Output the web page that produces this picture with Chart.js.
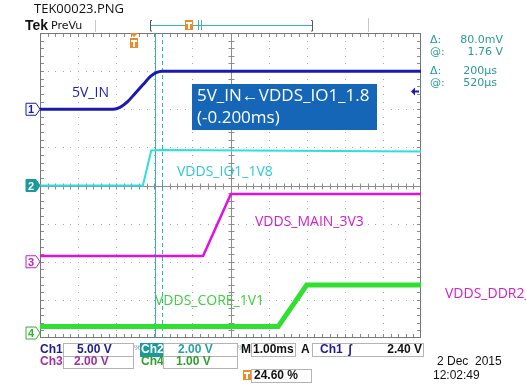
<!DOCTYPE html>
<html>
<head>
<meta charset="utf-8">
<script src="https://cdn.jsdelivr.net/npm/chart.js@4"></script>
<style>
html,body{margin:0;padding:0;background:#fff;}
canvas{display:block;}
</style>
</head>
<body>
<canvas id="scope" width="526" height="388"></canvas>
<script>
// breakpoints: x in divisions (1.00 ms/div), y in divisions from bottom
const ch1Time = [0, 1.92, 2.1, 2.3, 2.5, 2.7, 2.9, 3.05, 3.2, 10];
const ch1Div  = [6.0, 6.0, 6.05, 6.2, 6.42, 6.64, 6.86, 6.96, 7.0, 7.0];
const ch2Time = [0, 2.70, 2.92, 3.2, 10];
const ch2Div  = [4.0, 4.0, 4.92, 4.93, 4.89];
const ch3Time = [0, 4.28, 5.01, 10];
const ch3Div  = [2.15, 2.15, 3.78, 3.78];
const ch4Time = [0, 6.25, 7.0, 10];
const ch4Div  = [0.30, 0.30, 1.39, 1.39];

const groundMarks = [6.0, 4.0, 2.0, 0.13];   // ch1..ch4 ground markers
const cursorTimes = [3.02, 3.2];             // solid / dashed cursor
const triggerTime = 2.46;
const triggerLevel = 6.48;

const traceColors = ['#1a1aae', '#2fdede', '#e010e0', '#30e030'];

function pts(t, v){ return t.map((x, i) => ({x, y: v[i]})); }

const graticule = {
  id: 'graticule',
  beforeDatasetsDraw(chart){
    const {ctx, chartArea: a, scales: {x, y}} = chart;
    ctx.save();
    // dotted grid
    ctx.fillStyle = '#a8a8a8';
    for (let i = 1; i < 10; i++) {
      if (i === 5) continue;
      const px = Math.round(x.getPixelForValue(i));
      for (let j = 1; j < 40; j++) ctx.fillRect(px, Math.round(y.getPixelForValue(j * 0.2)), 1, 1);
    }
    for (let i = 1; i < 8; i++) {
      if (i === 4) continue;
      const py = Math.round(y.getPixelForValue(i));
      for (let j = 1; j < 50; j++) ctx.fillRect(Math.round(x.getPixelForValue(j * 0.2)), py, 1, 1);
    }
    // centre crosshair with ticks
    ctx.strokeStyle = '#8c8c8c';
    ctx.lineWidth = 1;
    const cx = Math.round(x.getPixelForValue(5)) + 0.5;
    const cy = Math.round(y.getPixelForValue(4)) + 0.5;
    ctx.beginPath();
    ctx.moveTo(cx, a.top); ctx.lineTo(cx, a.bottom);
    ctx.moveTo(a.left, cy); ctx.lineTo(a.right, cy);
    for (let j = 1; j < 40; j++) {
      const py = Math.round(y.getPixelForValue(j * 0.2)) + 0.5;
      ctx.moveTo(cx - 3, py); ctx.lineTo(cx + 3, py);
      ctx.moveTo(a.left, py); ctx.lineTo(a.left + 4, py);
      ctx.moveTo(a.right, py); ctx.lineTo(a.right - 4, py);
    }
    for (let j = 1; j < 50; j++) {
      const px = Math.round(x.getPixelForValue(j * 0.2)) + 0.5;
      ctx.moveTo(px, cy - 3); ctx.lineTo(px, cy + 3);
      ctx.moveTo(px, a.top); ctx.lineTo(px, a.top + 4);
      ctx.moveTo(px, a.bottom); ctx.lineTo(px, a.bottom - 4);
    }
    ctx.stroke();
    // frame
    ctx.strokeStyle = '#777';
    ctx.strokeRect(a.left + 0.5, a.top + 0.5, a.right - a.left - 1, a.bottom - a.top - 1);
    // cursors
    ctx.strokeStyle = '#2ab4c4';
    const c1 = Math.round(x.getPixelForValue(cursorTimes[0])) + 0.5;
    const c2 = Math.round(x.getPixelForValue(cursorTimes[1])) + 0.5;
    ctx.beginPath(); ctx.moveTo(c1, a.top); ctx.lineTo(c1, a.bottom); ctx.stroke();
    ctx.setLineDash([4, 3]);
    ctx.beginPath(); ctx.moveTo(c2, a.top); ctx.lineTo(c2, a.bottom); ctx.stroke();
    ctx.restore();
  }
};

function marker(ctx, n, py, color, filled){
  ctx.beginPath();
  ctx.moveTo(26, py - 6); ctx.lineTo(36, py - 6); ctx.lineTo(40, py);
  ctx.lineTo(36, py + 6); ctx.lineTo(26, py + 6); ctx.closePath();
  ctx.fillStyle = filled ? color : '#fff';
  ctx.fill();
  ctx.strokeStyle = color; ctx.lineWidth = 1; ctx.stroke();
  ctx.fillStyle = filled ? '#fff' : color;
  ctx.font = 'bold 11px "Liberation Sans"';
  ctx.textAlign = 'center'; ctx.textBaseline = 'middle';
  ctx.fillText(n, 31, py + 1);
}

function box(ctx, x0, y0, w, h){
  ctx.fillStyle = '#fff';
  ctx.fillRect(x0, y0, w, h);
  ctx.strokeStyle = '#b4b4b4'; ctx.lineWidth = 1;
  ctx.strokeRect(x0 + 0.5, y0 + 0.5, w - 1, h - 1);
}

function text(ctx, s, px, py, color, font, align){
  ctx.fillStyle = color; ctx.font = font;
  ctx.textAlign = align || 'left'; ctx.textBaseline = 'middle';
  ctx.fillText(s, px, py);
}

function tIcon(ctx, px, py){
  ctx.fillStyle = '#f08a24';
  ctx.fillRect(px, py, 8, 10);
  ctx.fillStyle = '#fff';
  ctx.fillRect(px + 1, py + 2, 6, 2);
  ctx.fillRect(px + 3, py + 2, 2, 7);
}

const overlay = {
  id: 'overlay',
  afterDraw(chart){
    const {ctx, chartArea: a, scales: {x, y}} = chart;
    ctx.save();
    // header
    text(ctx, 'TEK00023.PNG', 34, 9, '#111', '13px "Open Sans"');
    text(ctx, 'Tek', 25, 26, '#111', 'bold 14px "Liberation Sans"');
    text(ctx, 'PreVu', 51, 26, '#111', '11px "DejaVu Sans"');
    ctx.fillStyle = '#c8c8c8';
    ctx.fillRect(95, 20, 1, 12); ctx.fillRect(368, 18, 1, 14);
    ctx.strokeStyle = '#555'; ctx.lineWidth = 1;
    ctx.beginPath();
    ctx.moveTo(152, 20.5); ctx.lineTo(150.5, 20.5); ctx.lineTo(150.5, 31); ctx.lineTo(152, 31);
    ctx.moveTo(311, 20.5); ctx.lineTo(312.5, 20.5); ctx.lineTo(312.5, 31); ctx.lineTo(311, 31);
    ctx.stroke();
    ctx.strokeStyle = '#3ab0c0';
    ctx.beginPath(); ctx.moveTo(151, 25.5); ctx.lineTo(312, 25.5);
    ctx.moveTo(198.5, 20); ctx.lineTo(198.5, 30); ctx.moveTo(201.5, 20); ctx.lineTo(201.5, 30);
    ctx.stroke();
    tIcon(ctx, 185, 20);
    // trigger position marker
    const tx = Math.round(x.getPixelForValue(triggerTime));
    ctx.fillStyle = '#f08a24';
    ctx.beginPath(); ctx.moveTo(tx - 4, a.top); ctx.lineTo(tx + 4, a.top); ctx.lineTo(tx, a.top + 4); ctx.fill();
    tIcon(ctx, tx - 4, a.top + 5);
    // trigger level arrow
    const ty = Math.round(y.getPixelForValue(triggerLevel)) + 0.5;
    ctx.strokeStyle = traceColors[0]; ctx.fillStyle = traceColors[0]; ctx.lineWidth = 2;
    ctx.beginPath(); ctx.moveTo(414, ty); ctx.lineTo(419, ty); ctx.stroke();
    ctx.beginPath(); ctx.moveTo(411, ty); ctx.lineTo(415, ty - 4); ctx.lineTo(415, ty + 4); ctx.fill();
    ctx.lineWidth = 1;
    // ground markers
    marker(ctx, '1', y.getPixelForValue(groundMarks[0]), '#1a1aae', false);
    marker(ctx, '2', y.getPixelForValue(groundMarks[1]), '#1a9a9a', true);
    marker(ctx, '3', y.getPixelForValue(groundMarks[2]), '#c020c0', false);
    marker(ctx, '4', y.getPixelForValue(groundMarks[3]), '#30b030', false);
    // trace labels
    const lf = '14px "Open Sans"';
    text(ctx, '5V_IN', 72, 93, '#2020b0', lf);
    text(ctx, 'VDDS_IO1_1V8', 177, 172, '#30c8d8', lf);
    text(ctx, 'VDDS_MAIN_3V3', 255, 222, '#d020d0', lf);
    text(ctx, 'VDDS_DDR2_', 445, 294, '#d020d0', lf);
    text(ctx, 'VDDS_CORE_1V1', 155, 301, '#40d040', lf);
    // note box
    ctx.fillStyle = '#1666b8';
    ctx.fillRect(192, 84, 185, 46);
    text(ctx, '5V_IN\u2190VDDS_IO1_1.8', 197, 96, '#fff', '17px "Open Sans"');
    text(ctx, '(-0.200ms)', 197, 118, '#fff', '17px "Open Sans"');
    // cursor readouts
    const rf = '11px "DejaVu Sans"', rc = '#2a9a9a';
    text(ctx, '\u0394:', 430, 40, rc, rf);  text(ctx, '80.0mV', 503, 40, rc, rf, 'right');
    text(ctx, '@:', 430, 52, rc, rf);       text(ctx, '1.76 V', 503, 52, rc, rf, 'right');
    text(ctx, '\u0394:', 430, 71, rc, rf);  text(ctx, '200\u00b5s', 497, 71, rc, rf, 'right');
    text(ctx, '@:', 430, 83, rc, rf);       text(ctx, '520\u00b5s', 497, 83, rc, rf, 'right');
    // bottom readouts
    const bf = 'bold 12px "Liberation Sans"';
    text(ctx, 'Ch1', 40, 350, '#1c1c8c', bf);
    box(ctx, 63, 343, 71, 14); text(ctx, '5.00 V', 77, 350, '#1c1c8c', bf);
    text(ctx, '%', 134, 348, '#7a8ab0', '8px "Liberation Sans"');
    ctx.fillStyle = '#1a9a9a'; ctx.fillRect(140, 343, 23, 14);
    text(ctx, 'Ch2', 141, 350, '#fff', bf);
    box(ctx, 163, 343, 75, 14); text(ctx, '2.00 V', 178, 350, '#2aa0a0', bf);
    text(ctx, '%', 238, 348, '#7ab0b0', '8px "Liberation Sans"');
    text(ctx, 'M', 241, 350, '#111', bf);
    box(ctx, 251, 343, 45, 14); text(ctx, '1.00ms', 253, 350, '#111', bf);
    text(ctx, 'A', 301, 350, '#111', bf);
    box(ctx, 312, 343, 112, 14);
    text(ctx, 'Ch1', 320, 350, '#1c1c8c', bf);
    text(ctx, '\u0283', 348, 350, '#1c1c8c', bf);
    text(ctx, '2.40 V', 422, 350, '#111', bf, 'right');
    text(ctx, 'Ch3', 40, 362, '#a030a0', bf);
    box(ctx, 63, 356, 71, 13); text(ctx, '2.00 V', 74, 362, '#a030a0', bf);
    text(ctx, 'Ch4', 141, 362, '#30a030', bf);
    box(ctx, 163, 356, 75, 13); text(ctx, '1.00 V', 176, 362, '#30a030', bf);
    tIcon(ctx, 243, 370);
    box(ctx, 251, 369, 61, 14); text(ctx, '24.60 %', 254, 376, '#111', bf);
    text(ctx, '2 Dec  2015', 437, 362, '#111', '12px "Liberation Sans"');
    text(ctx, '12:02:49', 433, 376, '#111', '12px "Liberation Sans"');
    ctx.restore();
  }
};

new Chart(document.getElementById('scope'), {
  type: 'line',
  data: {
    datasets: [
      {label: 'Ch1 5V_IN', data: pts(ch1Time, ch1Div), borderColor: traceColors[0], borderWidth: 3, cubicInterpolationMode: 'monotone'},
      {label: 'Ch2 VDDS_IO1_1V8', data: pts(ch2Time, ch2Div), borderColor: traceColors[1], borderWidth: 2},
      {label: 'Ch3 VDDS_MAIN_3V3', data: pts(ch3Time, ch3Div), borderColor: traceColors[2], borderWidth: 2.5},
      {label: 'Ch4 VDDS_CORE_1V1', data: pts(ch4Time, ch4Div), borderColor: traceColors[3], borderWidth: 5}
    ]
  },
  options: {
    responsive: false,
    animation: false,
    parsing: false,
    layout: {padding: {left: 40, top: 33, right: 105, bottom: 50}},
    elements: {point: {radius: 0}, line: {tension: 0, fill: false}},
    plugins: {legend: {display: false}, tooltip: {enabled: false}},
    scales: {
      x: {type: 'linear', min: 0, max: 10, display: false},
      y: {type: 'linear', min: 0, max: 8, display: false}
    }
  },
  plugins: [graticule, overlay]
});
</script>
</body>
</html>
